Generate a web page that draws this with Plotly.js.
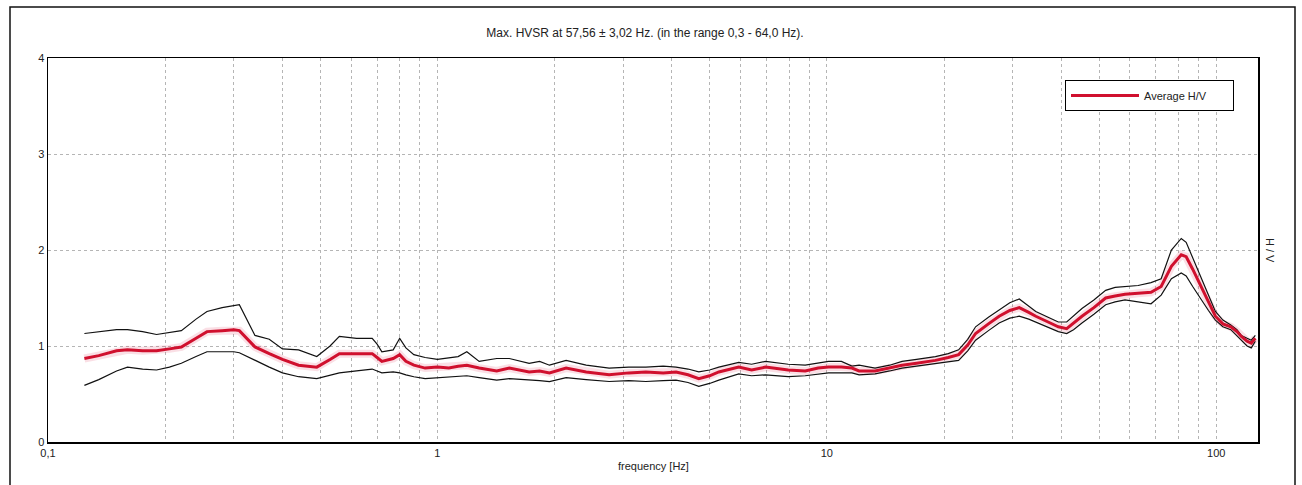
<!DOCTYPE html>
<html>
<head>
<meta charset="utf-8">
<script src="https://cdn.plot.ly/plotly-3.0.1.min.js"></script>
<style>html,body{margin:0;padding:0;background:#fff;}#chart{width:1302px;height:485px;}</style>
</head>
<body>
<div id="chart"></div>
<script>
// Frequencies (Hz)
const freq = [0.124,0.135,0.150,0.160,0.175,0.190,0.205,0.220,0.240,0.256,0.280,0.300,0.310,0.340,0.370,0.400,0.440,0.490,0.530,0.560,0.620,0.680,0.700,0.720,0.770,0.800,0.830,0.870,0.930,1.00,1.07,1.13,1.19,1.28,1.42,1.53,1.72,1.83,1.94,2.14,2.41,2.76,3.10,3.43,3.80,4.10,4.40,4.69,5.00,5.28,5.94,6.41,6.96,7.50,7.96,8.80,9.50,10.1,10.9,11.6,12.1,13.3,14.5,15.6,17.0,19.0,20.5,21.8,23.0,24.1,26.0,27.7,29.5,31.2,33.0,34.4,37.0,39.3,41.3,43.0,45.2,48.5,52.0,55.0,58.3,63.0,68.0,72.2,76.7,81.3,83.7,87.0,91.5,95.5,99.5,104,109,113,116,120,123,126];
// Average H/V
const avgHV = [0.87,0.90,0.95,0.96,0.95,0.95,0.97,0.99,1.08,1.15,1.16,1.17,1.16,0.99,0.92,0.86,0.80,0.78,0.86,0.92,0.92,0.92,0.88,0.84,0.87,0.91,0.84,0.80,0.77,0.78,0.77,0.79,0.80,0.77,0.74,0.77,0.73,0.74,0.72,0.77,0.73,0.70,0.72,0.73,0.72,0.73,0.70,0.66,0.69,0.73,0.78,0.75,0.78,0.76,0.75,0.74,0.77,0.78,0.78,0.77,0.74,0.74,0.77,0.80,0.82,0.85,0.88,0.91,1.01,1.13,1.23,1.31,1.37,1.40,1.35,1.31,1.25,1.20,1.18,1.24,1.31,1.40,1.50,1.52,1.54,1.55,1.56,1.62,1.83,1.95,1.93,1.80,1.62,1.45,1.31,1.23,1.20,1.15,1.10,1.05,1.03,1.08];
// Upper bound
const upperHV = [1.13,1.15,1.17,1.17,1.15,1.12,1.14,1.16,1.28,1.36,1.40,1.42,1.43,1.11,1.07,0.97,0.96,0.89,1.00,1.10,1.08,1.08,1.02,0.94,0.96,1.08,0.98,0.91,0.88,0.86,0.875,0.89,0.94,0.84,0.87,0.87,0.82,0.84,0.80,0.85,0.80,0.77,0.78,0.78,0.79,0.78,0.76,0.73,0.75,0.78,0.83,0.81,0.84,0.82,0.81,0.80,0.82,0.84,0.84,0.79,0.80,0.77,0.80,0.84,0.86,0.89,0.92,0.96,1.07,1.20,1.30,1.375,1.45,1.49,1.42,1.36,1.30,1.25,1.25,1.31,1.39,1.48,1.58,1.61,1.62,1.63,1.66,1.70,2.00,2.12,2.08,1.92,1.72,1.53,1.36,1.27,1.22,1.17,1.11,1.08,1.06,1.11];
// Lower bound
const lowerHV = [0.59,0.65,0.74,0.78,0.76,0.75,0.78,0.82,0.89,0.94,0.94,0.94,0.93,0.85,0.78,0.72,0.68,0.66,0.70,0.72,0.74,0.76,0.74,0.72,0.73,0.72,0.70,0.68,0.66,0.67,0.68,0.69,0.69,0.67,0.645,0.66,0.65,0.64,0.63,0.67,0.65,0.63,0.64,0.63,0.64,0.645,0.62,0.58,0.61,0.645,0.71,0.69,0.70,0.69,0.68,0.69,0.71,0.72,0.72,0.72,0.70,0.71,0.74,0.77,0.79,0.82,0.84,0.85,0.95,1.06,1.16,1.24,1.29,1.31,1.28,1.25,1.19,1.15,1.13,1.17,1.24,1.33,1.43,1.46,1.48,1.46,1.44,1.53,1.70,1.76,1.73,1.62,1.48,1.37,1.27,1.20,1.17,1.11,1.06,1.00,0.98,1.05];

const xTickVals = [0.1,0.2,0.3,0.4,0.5,0.6,0.7,0.8,0.9,1,2,3,4,5,6,7,8,9,10,20,30,40,50,60,70,80,90,100];
const xTickText = ['0,1','','','','','','','','','1','','','','','','','','','10','','','','','','','','','100'];
const yTickVals = [0,1,2,3,4];
const yTickText = ['0','1','2','3','4'];

const titleText = 'Max. HVSR at 57,56 ± 3,02 Hz. (in the range 0,3 - 64,0 Hz).';
const xTitle = 'frequency [Hz]';
const yTitle = 'H / V';
const legendName = 'Average H/V';

const traces = [
  {x: freq, y: avgHV, type:'scatter', mode:'lines', line:{color:'rgba(225,80,110,0.18)', width:8}, showlegend:false, hoverinfo:'skip'},
  {x: freq, y: upperHV, type:'scatter', mode:'lines', line:{color:'#111', width:1.2}, showlegend:false},
  {x: freq, y: lowerHV, type:'scatter', mode:'lines', line:{color:'#111', width:1.2}, showlegend:false},
  {x: freq, y: avgHV, type:'scatter', mode:'lines', name: legendName + '\u00a0\u00a0\u00a0\u00a0\u00a0\u00a0\u00a0', line:{color:'#d0102e', width:3}}
];

const L = 48, R = 1258, T = 58, B = 442;
const pw = R - L, ph = B - T;

const layout = {
  width:1302, height:485,
  margin:{l:L, r:1302-R, t:T, b:485-B, pad:0},
  paper_bgcolor:'#fff', plot_bgcolor:'#fff',
  font:{family:'"Liberation Sans", Arial, sans-serif', size:11, color:'#222'},
  title:{text:titleText, xref:'container', x:645/1302, xanchor:'center', yref:'container', y:1-33/485, yanchor:'middle', font:{size:12, color:'#222'}},
  showlegend:true,
  legend:{x:(1065-L)/pw, y:(B-80)/ph, xanchor:'left', yanchor:'top', bordercolor:'#000', borderwidth:1, bgcolor:'#fff', font:{size:11, color:'#222'}, itemwidth:68, tracegroupgap:0},
  xaxis:{type:'log', range:[-1, Math.log10(128)], tickvals:xTickVals, ticktext:xTickText, showgrid:true, gridcolor:'#b5b5b5', griddash:'3px,3px', gridwidth:1, showline:true, mirror:true, linecolor:'#000', linewidth:1.5, ticks:'', zeroline:false, tickfont:{size:11, color:'#222'}, fixedrange:true},
  yaxis:{range:[0,4], tickvals:yTickVals, ticktext:yTickText, showgrid:true, gridcolor:'#b5b5b5', griddash:'3px,3px', gridwidth:1, showline:true, mirror:true, linecolor:'#000', linewidth:1.5, ticks:'', zeroline:false, tickfont:{size:11, color:'#222'}, fixedrange:true},
  shapes:[
    {type:'rect', xref:'paper', yref:'paper', x0:(10-L)/pw, x1:(1295-L)/pw, y0:(B-495)/ph, y1:(B-7)/ph, line:{color:'#111', width:1.5}, fillcolor:'rgba(0,0,0,0)', layer:'below'}
  ],
  annotations:[
    {text:xTitle, xref:'paper', yref:'paper', x:(653-L)/pw, y:(B-466)/ph, xanchor:'center', yanchor:'middle', showarrow:false, font:{size:11, color:'#222'}},
    {text:yTitle, xref:'paper', yref:'paper', x:(1270-L)/pw, y:(B-250)/ph, xanchor:'center', yanchor:'middle', textangle:90, showarrow:false, font:{size:11, color:'#222'}}
  ]
};

Plotly.newPlot('chart', traces, layout, {displayModeBar:false, staticPlot:true});
</script>
</body>
</html>
